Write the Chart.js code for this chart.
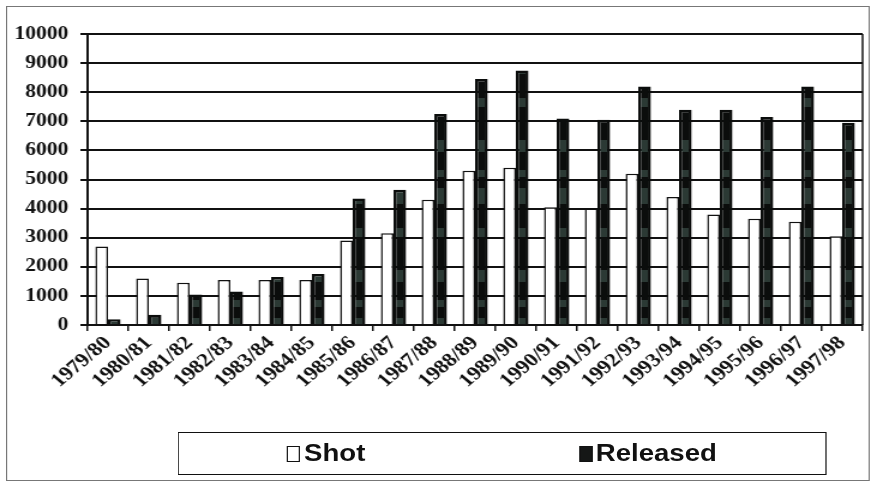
<!DOCTYPE html>
<html>
<head>
<meta charset="utf-8">
<script src="https://cdn.jsdelivr.net/npm/chart.js@4.4.0/dist/chart.umd.min.js"></script>
<style>
  html, body { margin: 0; padding: 0; background: #fff; overflow: hidden; }
  /* the whole figure is laid out narrow and stretched sideways, like the printed original */
  #wrap { position: relative; width: 731px; height: 488px; transform: scaleX(1.1997); transform-origin: 0 0; }
  #frame { position: absolute; left: 5px; top: 6px; width: 720px; height: 475px; border: 1px solid #777; box-sizing: border-box; }
  canvas { position: absolute; left: 0; top: 0; }
  #legend {
    position: absolute; left: 148px; top: 432px; width: 541px; height: 43px;
    box-sizing: border-box; border: 1.5px solid #111;
    display: flex; justify-content: center; align-items: center; gap: 178px;
    font: bold 23px "Liberation Sans", Arial, sans-serif; color: #111;
  }
  .item { display: flex; align-items: center; }
  .swatch { width: 11px; height: 16px; box-sizing: border-box; border: 1.5px solid #111; margin-right: 3px; }
</style>
</head>
<body>
<div id="wrap">
  <div id="frame"></div>
  <canvas id="chart" width="731" height="488"></canvas>
  <div id="legend"></div>
</div>
<script>
const seasons = ["1979/80", "1980/81", "1981/82", "1982/83", "1983/84", "1984/85", "1985/86",
  "1986/87", "1987/88", "1988/89", "1989/90", "1990/91", "1991/92", "1992/93", "1993/94",
  "1994/95", "1995/96", "1996/97", "1997/98"];
const shot = [2700, 1600, 1450, 1550, 1550, 1550, 2900, 3150, 4300, 5300, 5400,
  4050, 4000, 5200, 4400, 3800, 3650, 3550, 3050];
const released = [200, 350, 1050, 1150, 1650, 1750, 4350, 4650, 7250, 8450, 8750,
  7100, 7050, 8200, 7400, 7400, 7150, 8200, 6950];
const seriesNames = ["Shot", "Released"];
const yTicks = [0, 1000, 2000, 3000, 4000, 5000, 6000, 7000, 8000, 9000, 10000];

const INK = "#111";
const serif = '"Liberation Serif", "Times New Roman", serif';

// mottled black fill for the released bars
function releasedFill(ctx) {
  const c = document.createElement("canvas");
  c.width = 4; c.height = 130;
  const g = c.getContext("2d");
  g.fillStyle = "#0b0d0c";
  g.fillRect(0, 0, 4, 130);
  g.fillStyle = "#2b3934";
  [[10, 12], [40, 7], [58, 16], [98, 9]].forEach(([y, h]) => g.fillRect(0, y, 4, h));
  return ctx.createPattern(c, "repeat");
}

// closes the plot area on the right side
const plotFrame = {
  id: "plotFrame",
  beforeDatasetsDraw(chart) {
    const { ctx, chartArea: a } = chart;
    ctx.save();
    ctx.strokeStyle = INK;
    ctx.lineWidth = 1.5;
    ctx.beginPath();
    ctx.moveTo(a.right, a.top);
    ctx.lineTo(a.right, a.bottom);
    ctx.stroke();
    ctx.restore();
  }
};

const canvas = document.getElementById("chart");
const ctx = canvas.getContext("2d");

const chart = new Chart(ctx, {
  type: "bar",
  data: {
    labels: seasons,
    datasets: [
      {
        label: seriesNames[0],
        data: shot,
        backgroundColor: "#fff",
        borderColor: INK,
        borderWidth: 1.5,
        barPercentage: 1.0,
        categoryPercentage: 0.62
      },
      {
        label: seriesNames[1],
        data: released,
        backgroundColor: releasedFill(ctx),
        borderColor: "#0b0d0c",
        borderWidth: 2.5,
        barPercentage: 1.0,
        categoryPercentage: 0.62
      }
    ]
  },
  options: {
    responsive: false,
    animation: false,
    layout: { padding: { left: 8, top: 34, right: 12, bottom: 0 } },
    plugins: {
      legend: { display: false },
      tooltip: { enabled: false }
    },
    scales: {
      x: {
        ticks: {
          autoSkip: false, maxRotation: 45, minRotation: 45, padding: 1,
          color: INK, font: { family: serif, weight: "bold", size: 19 }
        },
        grid: { drawOnChartArea: false, offset: true, color: INK, lineWidth: 1.5, tickLength: 6 },
        border: { color: INK, width: 2 },
        afterFit(s) { s.height = 163; }
      },
      y: {
        min: 0,
        max: 10000,
        afterBuildTicks(s) { s.ticks = yTicks.map(v => ({ value: v })); },
        ticks: {
          padding: 10, color: INK,
          font: { family: serif, weight: "bold", size: 18 },
          callback: v => String(v)
        },
        grid: { color: INK, lineWidth: 2, tickLength: 6 },
        border: { color: INK, width: 2 },
        afterFit(s) { s.width = 65; }
      }
    }
  },
  plugins: [plotFrame]
});

// legend box under the axis labels
const legend = document.getElementById("legend");
const swatchFill = ["#fff", "#151716"];
chart.data.datasets.forEach((ds, i) => {
  const item = document.createElement("span");
  item.className = "item";
  const sw = document.createElement("span");
  sw.className = "swatch";
  sw.style.background = swatchFill[i];
  const txt = document.createElement("span");
  txt.textContent = ds.label;
  item.appendChild(sw);
  item.appendChild(txt);
  legend.appendChild(item);
});
</script>
</body>
</html>
